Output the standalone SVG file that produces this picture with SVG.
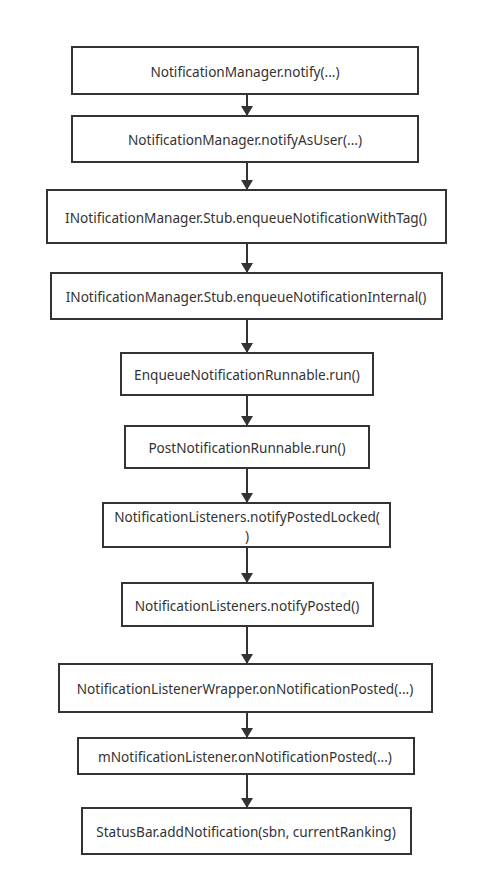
<svg xmlns="http://www.w3.org/2000/svg" width="477" height="886" viewBox="0 0 477 886">
<style>
.box{fill:#fff;stroke:#333;stroke-width:2}
.t{font-family:"Noto Sans","Open Sans",sans-serif;font-size:13.6px;fill:#333;text-anchor:middle;dominant-baseline:central}
.c{stroke:#333;stroke-width:2;fill:none}
</style>
<defs>
<marker id="ah" viewBox="0 0 10 12" refX="10" refY="6" markerWidth="10" markerHeight="12" markerUnits="userSpaceOnUse" orient="auto">
<path d="M0,0 L10,6 L0,12 z" fill="#333"/>
</marker>
</defs>
<rect width="477" height="886" fill="#fff"/>
<g id="connectors">
<line class="c" x1="247" y1="94" x2="247" y2="116" marker-end="url(#ah)"/>
<line class="c" x1="247" y1="162" x2="247" y2="190" marker-end="url(#ah)"/>
<line class="c" x1="247" y1="243" x2="247" y2="273" marker-end="url(#ah)"/>
<line class="c" x1="247" y1="319" x2="247" y2="353" marker-end="url(#ah)"/>
<line class="c" x1="247" y1="395" x2="247" y2="426" marker-end="url(#ah)"/>
<line class="c" x1="247" y1="468" x2="247" y2="503" marker-end="url(#ah)"/>
<line class="c" x1="247" y1="547" x2="247" y2="583" marker-end="url(#ah)"/>
<line class="c" x1="247" y1="626" x2="247" y2="664" marker-end="url(#ah)"/>
<line class="c" x1="247" y1="712" x2="247" y2="738" marker-end="url(#ah)"/>
<line class="c" x1="247" y1="774" x2="247" y2="808" marker-end="url(#ah)"/>
</g>
<g id="n1"><rect class="box" x="72" y="47" width="346" height="47"/><text class="t" x="245" y="71">NotificationManager.notify(...)</text></g>
<g id="n2"><rect class="box" x="72" y="116" width="346" height="46"/><text class="t" x="245" y="139">NotificationManager.notifyAsUser(...)</text></g>
<g id="n3"><rect class="box" x="47" y="190" width="399" height="53"/><text class="t" x="246" y="217">INotificationManager.Stub.enqueueNotificationWithTag()</text></g>
<g id="n4"><rect class="box" x="51" y="273" width="391" height="46"/><text class="t" x="246" y="296">INotificationManager.Stub.enqueueNotificationInternal()</text></g>
<g id="n5"><rect class="box" x="121" y="353" width="252" height="42"/><text class="t" x="247" y="374">EnqueueNotificationRunnable.run()</text></g>
<g id="n6"><rect class="box" x="125" y="426" width="244" height="42"/><text class="t" x="247" y="447">PostNotificationRunnable.run()</text></g>
<g id="n7"><rect class="box" x="103" y="503" width="287" height="44"/><text class="t" x="247" y="516">NotificationListeners.notifyPostedLocked(<tspan x="247" dy="19">)</tspan></text></g>
<g id="n8"><rect class="box" x="122" y="583" width="251" height="43"/><text class="t" x="247" y="605">NotificationListeners.notifyPosted()</text></g>
<g id="n9"><rect class="box" x="59" y="664" width="373" height="48"/><text class="t" x="245" y="688">NotificationListenerWrapper.onNotificationPosted(...)</text></g>
<g id="n10"><rect class="box" x="78" y="738" width="336" height="36"/><text class="t" x="245" y="756">mNotificationListener.onNotificationPosted(...)</text></g>
<g id="n11"><rect class="box" x="82" y="808" width="329" height="46"/><text class="t" x="246" y="831">StatusBar.addNotification(sbn, currentRanking)</text></g>
</svg>
